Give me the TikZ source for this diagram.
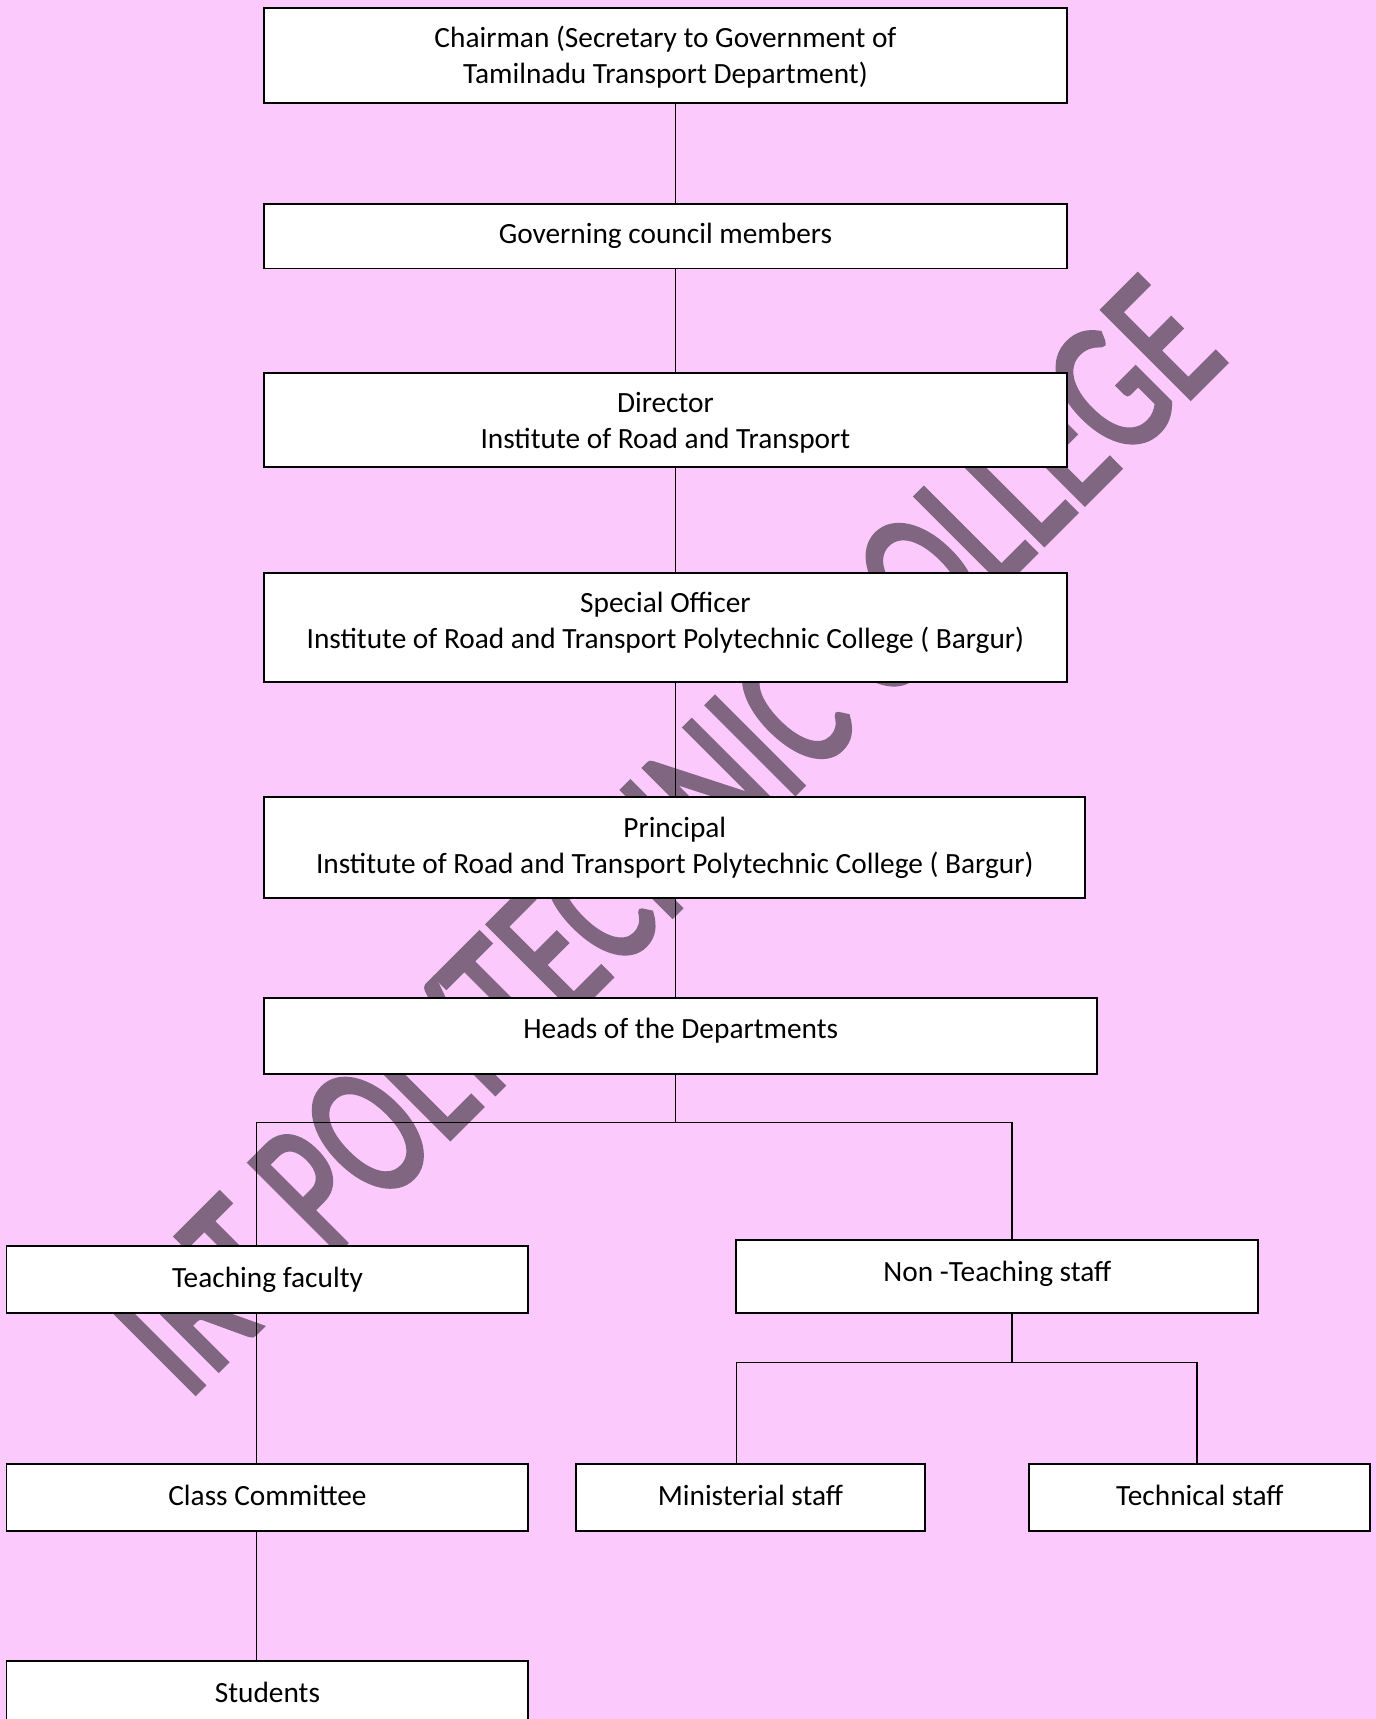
\documentclass[tikz,border=0pt]{standalone}
\usepackage{fontspec}
\setmainfont{Carlito}
\newfontfamily\wmfont{Carlito}[FakeBold=2.5]
\usetikzlibrary{backgrounds}
\definecolor{pagepink}{HTML}{FCC9FC}
\definecolor{wmgray}{HTML}{806680}
\begin{document}
\begin{tikzpicture}[
    box/.style={draw, fill=white, line width=1.1pt, align=center, inner sep=0pt,
        font=\fontsize{16.7}{20.5}\selectfont},
    link/.style={line width=0.75pt},
    wmark/.style={text=wmgray, inner sep=0pt, font=\wmfont\fontsize{77}{80}\selectfont}]
    \useasboundingbox (0,0) rectangle (27.52,-34.383);

    \node[box, minimum width=16.05cm, minimum height=1.91cm] (chair) at (13.31,-1.107)
        [label={[box, draw=none, fill=none, yshift=-0.04cm]center:Chairman (Secretary to Government of\\Tamilnadu Transport Department)}] {};
    \node[box, minimum width=16.05cm, minimum height=1.29cm] (gov) at (13.31,-4.725)
        {Governing council members};
    \node[box, minimum width=16.05cm, minimum height=1.89cm] (dir) at (13.31,-8.40)
        [label={[box, draw=none, fill=none, yshift=-0.05cm]center:Director\\Institute of Road and Transport}] {};
    \node[box, minimum width=16.05cm, minimum height=2.17cm] (spo) at (13.31,-12.55)
        [label={[box, draw=none, fill=none, yshift=0.1cm]center:Special Officer\\Institute of Road and Transport Polytechnic College ( Bargur)}] {};
    \node[box, minimum width=16.42cm, minimum height=2.02cm] (prin) at (13.497,-16.95)
        {Principal\\Institute of Road and Transport Polytechnic College ( Bargur)};
    \node[box, minimum width=16.665cm, minimum height=1.535cm] (hod) at (13.617,-20.72)
        [label={[box, draw=none, fill=none, yshift=0.11cm]center:Heads of the Departments}] {};
    \node[box, minimum width=10.44cm, minimum height=1.34cm] (teach) at (5.35,-25.60)
        {Teaching faculty};
    \node[box, minimum width=10.44cm, minimum height=1.47cm] (nonteach) at (19.95,-25.535)
        [label={[box, draw=none, fill=none, yshift=0.06cm]center:Non -Teaching staff}] {};
    \node[box, minimum width=10.44cm, minimum height=1.34cm] (cc) at (5.35,-29.943)
        [label={[box, draw=none, fill=none, yshift=0.04cm]center:Class Committee}] {};
    \node[box, minimum width=6.995cm, minimum height=1.34cm] (mini) at (15.01,-29.943)
        [label={[box, draw=none, fill=none, yshift=0.04cm]center:Ministerial staff}] {};
    \node[box, minimum width=6.82cm, minimum height=1.34cm] (tech) at (24.0,-29.943)
        [label={[box, draw=none, fill=none, yshift=0.04cm]center:Technical staff}] {};
    \node[box, minimum width=10.44cm, minimum height=1.34cm] (stud) at (5.35,-33.89)
        [label={[box, draw=none, fill=none, yshift=0.04cm]center:Students}] {};

    \coordinate (spine) at (13.507,0);
    \coordinate (fork) at (13.507,-22.454);
    \coordinate (forkL) at (5.131,-22.454);
    \coordinate (forkR) at (20.240,-22.454);
    \coordinate (subL) at (14.736,-27.257);
    \coordinate (subM) at (20.240,-27.257);
    \coordinate (subR) at (23.945,-27.257);

    \begin{pgfonlayer}{background}
        \fill[pagepink] (0,0) rectangle (27.52,-34.383);
        \begin{scope}[shift={(3.74,-28.03)}, rotate=45, yscale=1.43]
            \node[wmark, anchor=base west, transform shape] (wm) at (0,0) {IRT POLYTECHNIC COLLEGE};
        \end{scope}
        \draw[link] (chair.south -| spine) -- (gov.north -| spine);
        \draw[link] (gov.south -| spine) -- (dir.north -| spine);
        \draw[link] (dir.south -| spine) -- (spo.north -| spine);
        \draw[link] (spo.south -| spine) -- (prin.north -| spine);
        \draw[link] (prin.south -| spine) -- (hod.north -| spine);
        \draw[link] (hod.south -| spine) -- (fork);
        \draw[link] (teach.north -| forkL) -- (forkL) -- (forkR) -- (nonteach.north -| forkR);
        \draw[link] (teach.south -| forkL) -- (cc.north -| forkL);
        \draw[link] (cc.south -| forkL) -- (stud.north -| forkL);
        \draw[link] (nonteach.south -| subM) -- (subM);
        \draw[link] (mini.north -| subL) -- (subL) -- (subR) -- (tech.north -| subR);
    \end{pgfonlayer}
\end{tikzpicture}
\end{document}
